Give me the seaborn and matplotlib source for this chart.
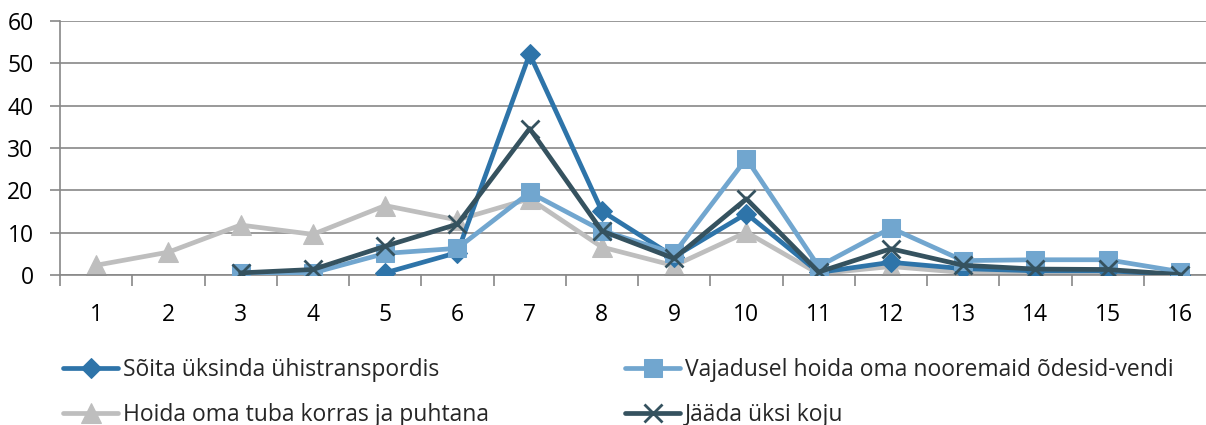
import numpy as np
import pandas as pd
import matplotlib
matplotlib.use('Agg')
import matplotlib.pyplot as plt
import seaborn as sns

# chart values
categories = list(range(1, 17))
soita = [np.nan, np.nan, np.nan, np.nan, 0.5, 5.3, 52.2, 15.1, 4.3, 14.5, 0.6, 3.0, 1.5, 1.0, 1.0, 0.1]
vajadusel = [np.nan, np.nan, 0.5, 0.5, 5.1, 6.3, 19.5, 10.5, 5.1, 27.5, 2.0, 11.1, 3.4, 3.6, 3.6, 0.8]
hoida = [2.3, 5.4, 11.8, 9.6, 16.4, 13.0, 18.0, 6.6, 2.2, 10.1, 0.3, 2.0, 0.6, 0.7, 0.7, 0.0]
jaada = [np.nan, np.nan, 0.5, 1.3, 6.8, 12.0, 34.6, 10.4, 3.9, 18.0, 0.7, 6.2, 2.3, 1.4, 1.3, 0.1]

labels = ['Sõita üksinda ühistranspordis',
          'Vajadusel hoida oma nooremaid õdesid-vendi',
          'Hoida oma tuba korras ja puhtana',
          'Jääda üksi koju']

df = pd.DataFrame({'kat': categories, labels[0]: soita, labels[1]: vajadusel,
                   labels[2]: hoida, labels[3]: jaada})

sns.set_theme(style='white')
plt.rcParams['font.family'] = ['Open Sans', 'DejaVu Sans']

fig = plt.figure(figsize=(12.06, 4.25), dpi=100)
ax = fig.add_axes([60 / 1206, 150 / 425, 1156 / 1206, 254 / 425])

styles = [
    (labels[0], '#2E74A9', 'D', 10, None),
    (labels[1], '#71A6CF', 's', 13, None),
    (labels[2], '#BEBEBE', '^', 14, None),
    (labels[3], '#35525F', 'x', 13, 2.0),
]
# draw order: grey behind, then the blues, dark slate on top
zorders = {labels[2]: 2, labels[0]: 3, labels[1]: 4, labels[3]: 5}
handles = {}
for name, col, mk, ms, mew in styles:
    kw = dict(markeredgecolor=col)
    if mew:
        kw['markeredgewidth'] = mew
    sns.lineplot(data=df, x='kat', y=name, ax=ax, color=col, linewidth=3.4,
                 marker=mk, markersize=ms, zorder=zorders[name], label=name, **kw)
    handles[name] = ax.lines[-1]

ax.set_xlim(0.5, 16.5)
ax.set_ylim(0, 60)
ax.set_yticks(range(0, 61, 10))
ax.set_xticks(categories)
ax.set_xticks(np.arange(0.5, 17, 1), minor=True)
ax.set_xlabel('')
ax.set_ylabel('')
ax.yaxis.grid(True, color='#888888', linewidth=1.2)
ax.set_axisbelow(True)
for s in ['top', 'right']:
    ax.spines[s].set_visible(False)
for s in ['left', 'bottom']:
    ax.spines[s].set_color('#888888')
    ax.spines[s].set_linewidth(1.2)
ax.tick_params(axis='y', left=True, length=7, width=1.2, color='#888888',
               labelsize=16.5, pad=12, labelcolor='black')
ax.tick_params(axis='x', which='major', length=0, labelsize=16.5, pad=20, labelcolor='black')
ax.tick_params(axis='x', which='minor', bottom=True, length=8, width=1.2, color='#888888')

ax.get_legend().remove()
order = [labels[0], labels[2], labels[1], labels[3]]
fig.legend([handles[n] for n in order], order, ncol=2, frameon=False,
           loc='upper left', bbox_to_anchor=(63 / 1206, 1 - 358 / 425),
           fontsize=16.5, handlelength=2.4, handletextpad=0.2,
           columnspacing=5.97, labelspacing=0.9, borderaxespad=0, borderpad=0)

fig.savefig('out.png', dpi=100)
